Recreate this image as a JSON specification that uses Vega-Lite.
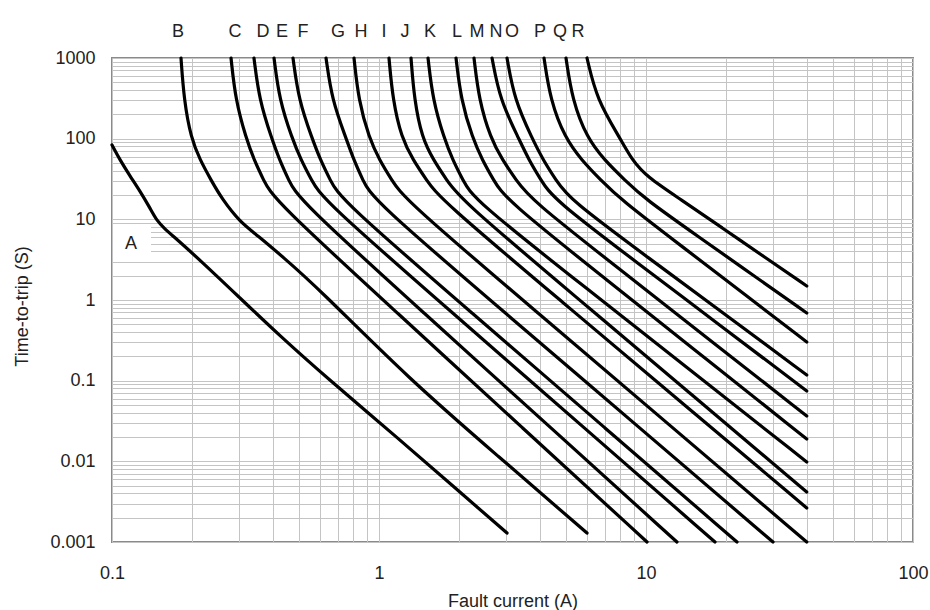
{
  "$schema": "https://vega.github.io/schema/vega-lite/v6.json",
  "width": 801,
  "height": 484,
  "autosize": {"type": "none"},
  "padding": {"left": 112, "top": 58, "right": 17, "bottom": 68},
  "background": "white",
  "config": {
    "view": {"stroke": "#8a8a8a", "strokeWidth": 2},
    "font": "Liberation Sans",
    "axis": {"domain": false, "ticks": false, "gridColor": "#c4c4c4", "gridWidth": 1, "labelFont": "Liberation Sans", "labelFontSize": 18, "labelColor": "#222", "titleFont": "Liberation Sans", "titleFontSize": 18, "titleFontWeight": "normal", "titleColor": "#222", "labelOverlap": false, "labelBound": false, "labelFlush": false}
  },
  "datasets": {
    "curves": [
      {"curve": "A", "current": 0.1, "time": 83.5},
      {"curve": "A", "current": 0.1071, "time": 54.4},
      {"curve": "A", "current": 0.1168, "time": 34.5},
      {"curve": "A", "current": 0.1273, "time": 22.5},
      {"curve": "A", "current": 0.1388, "time": 13.8},
      {"curve": "A", "current": 0.1474, "time": 9.54},
      {"curve": "A", "current": 0.1579, "time": 7.59},
      {"curve": "A", "current": 0.1692, "time": 6.22},
      {"curve": "A", "current": 0.2136, "time": 3.13},
      {"curve": "A", "current": 0.3015, "time": 1.059},
      {"curve": "A", "current": 0.4258, "time": 0.358},
      {"curve": "A", "current": 0.6385, "time": 0.108},
      {"curve": "A", "current": 1.199, "time": 0.0184},
      {"curve": "A", "current": 1.9017, "time": 0.004873},
      {"curve": "A", "current": 3.016, "time": 0.00129},
      {"curve": "B", "current": 0.1813, "time": 1000},
      {"curve": "B", "current": 0.1861, "time": 301.6},
      {"curve": "B", "current": 0.1976, "time": 101.9},
      {"curve": "B", "current": 0.2137, "time": 54.4},
      {"curve": "B", "current": 0.2349, "time": 30.7},
      {"curve": "B", "current": 0.2582, "time": 17.9},
      {"curve": "B", "current": 0.3016, "time": 9.27},
      {"curve": "B", "current": 0.3493, "time": 6.4},
      {"curve": "B", "current": 0.4369, "time": 3.41},
      {"curve": "B", "current": 0.5858, "time": 1.45},
      {"curve": "B", "current": 1.306, "time": 0.102},
      {"curve": "B", "current": 2.8028, "time": 0.011475},
      {"curve": "B", "current": 6.012, "time": 0.00129},
      {"curve": "C", "current": 0.2791, "time": 1000},
      {"curve": "C", "current": 0.2901, "time": 301.6},
      {"curve": "C", "current": 0.3176, "time": 101.9},
      {"curve": "C", "current": 0.3405, "time": 54.4},
      {"curve": "C", "current": 0.3697, "time": 30.7},
      {"curve": "C", "current": 0.4009, "time": 17.9},
      {"curve": "C", "current": 1.1748, "time": 0.6842},
      {"curve": "C", "current": 3.441, "time": 0.02616},
      {"curve": "C", "current": 10.09, "time": 0.001},
      {"curve": "D", "current": 0.3402, "time": 1000},
      {"curve": "D", "current": 0.3562, "time": 301.6},
      {"curve": "D", "current": 0.3958, "time": 101.9},
      {"curve": "D", "current": 0.424, "time": 54.4},
      {"curve": "D", "current": 0.459, "time": 30.7},
      {"curve": "D", "current": 0.4973, "time": 17.9},
      {"curve": "D", "current": 1.4784, "time": 0.6842},
      {"curve": "D", "current": 4.3932, "time": 0.02616},
      {"curve": "D", "current": 13.06, "time": 0.001},
      {"curve": "E", "current": 0.4044, "time": 1000},
      {"curve": "E", "current": 0.4236, "time": 301.6},
      {"curve": "E", "current": 0.4722, "time": 101.9},
      {"curve": "E", "current": 0.5104, "time": 54.4},
      {"curve": "E", "current": 0.5587, "time": 30.7},
      {"curve": "E", "current": 0.6116, "time": 17.9},
      {"curve": "E", "current": 1.8929, "time": 0.6842},
      {"curve": "E", "current": 5.8579, "time": 0.02616},
      {"curve": "E", "current": 18.13, "time": 0.001},
      {"curve": "F", "current": 0.4763, "time": 1000},
      {"curve": "F", "current": 0.5003, "time": 301.6},
      {"curve": "F", "current": 0.5611, "time": 101.9},
      {"curve": "F", "current": 0.6033, "time": 54.4},
      {"curve": "F", "current": 0.6568, "time": 30.7},
      {"curve": "F", "current": 0.7143, "time": 17.9},
      {"curve": "F", "current": 2.2366, "time": 0.6842},
      {"curve": "F", "current": 7.0003, "time": 0.02616},
      {"curve": "F", "current": 21.92, "time": 0.001},
      {"curve": "G", "current": 0.6333, "time": 1000},
      {"curve": "G", "current": 0.6668, "time": 301.6},
      {"curve": "G", "current": 0.7522, "time": 101.9},
      {"curve": "G", "current": 0.8047, "time": 54.4},
      {"curve": "G", "current": 0.8703, "time": 30.7},
      {"curve": "G", "current": 0.9414, "time": 17.9},
      {"curve": "G", "current": 2.9815, "time": 0.6842},
      {"curve": "G", "current": 9.4411, "time": 0.02616},
      {"curve": "G", "current": 29.9, "time": 0.001},
      {"curve": "H", "current": 0.8061, "time": 1000},
      {"curve": "H", "current": 0.838, "time": 301.6},
      {"curve": "H", "current": 0.9175, "time": 101.9},
      {"curve": "H", "current": 1.0043, "time": 54.4},
      {"curve": "H", "current": 1.1166, "time": 30.7},
      {"curve": "H", "current": 1.2408, "time": 17.9},
      {"curve": "H", "current": 3.9499, "time": 0.6842},
      {"curve": "H", "current": 12.572, "time": 0.02616},
      {"curve": "H", "current": 40, "time": 0.001},
      {"curve": "I", "current": 1.09, "time": 1000},
      {"curve": "I", "current": 1.1263, "time": 301.6},
      {"curve": "I", "current": 1.2143, "time": 101.9},
      {"curve": "I", "current": 1.3419, "time": 54.4},
      {"curve": "I", "current": 1.5066, "time": 30.7},
      {"curve": "I", "current": 1.6925, "time": 17.9},
      {"curve": "I", "current": 4.8576, "time": 0.9458},
      {"curve": "I", "current": 13.9389, "time": 0.04995},
      {"curve": "I", "current": 40, "time": 0.00264},
      {"curve": "J", "current": 1.3178, "time": 1000},
      {"curve": "J", "current": 1.3559, "time": 301.6},
      {"curve": "J", "current": 1.4493, "time": 101.9},
      {"curve": "J", "current": 1.5988, "time": 54.4},
      {"curve": "J", "current": 1.7932, "time": 30.7},
      {"curve": "J", "current": 2.011, "time": 17.9},
      {"curve": "J", "current": 5.448, "time": 1.1013},
      {"curve": "J", "current": 14.764, "time": 0.0679},
      {"curve": "J", "current": 40, "time": 0.00417},
      {"curve": "K", "current": 1.5262, "time": 1000},
      {"curve": "K", "current": 1.5906, "time": 301.6},
      {"curve": "K", "current": 1.7519, "time": 101.9},
      {"curve": "K", "current": 1.8882, "time": 54.4},
      {"curve": "K", "current": 2.0619, "time": 30.7},
      {"curve": "K", "current": 2.2494, "time": 17.9},
      {"curve": "K", "current": 5.872, "time": 1.4651},
      {"curve": "K", "current": 15.327, "time": 0.11997},
      {"curve": "K", "current": 40, "time": 0.00982},
      {"curve": "L", "current": 1.9429, "time": 1000},
      {"curve": "L", "current": 2.0284, "time": 301.6},
      {"curve": "L", "current": 2.2397, "time": 101.9},
      {"curve": "L", "current": 2.4376, "time": 54.4},
      {"curve": "L", "current": 2.6874, "time": 30.7},
      {"curve": "L", "current": 2.9643, "time": 17.9},
      {"curve": "L", "current": 7.0595, "time": 1.8227},
      {"curve": "L", "current": 16.804, "time": 0.18561},
      {"curve": "L", "current": 40, "time": 0.0189},
      {"curve": "M", "current": 2.2689, "time": 1000},
      {"curve": "M", "current": 2.3689, "time": 301.6},
      {"curve": "M", "current": 2.6165, "time": 101.9},
      {"curve": "M", "current": 2.8987, "time": 54.4},
      {"curve": "M", "current": 3.2652, "time": 30.7},
      {"curve": "M", "current": 3.6779, "time": 17.9},
      {"curve": "M", "current": 8.1486, "time": 2.2699},
      {"curve": "M", "current": 18.058, "time": 0.28774},
      {"curve": "M", "current": 40, "time": 0.0365},
      {"curve": "N", "current": 2.6505, "time": 1000},
      {"curve": "N", "current": 2.8393, "time": 301.6},
      {"curve": "N", "current": 3.3306, "time": 101.9},
      {"curve": "N", "current": 3.6427, "time": 54.4},
      {"curve": "N", "current": 4.0442, "time": 30.7},
      {"curve": "N", "current": 4.4848, "time": 17.9},
      {"curve": "N", "current": 9.2998, "time": 2.8798},
      {"curve": "N", "current": 19.289, "time": 0.46305},
      {"curve": "N", "current": 40, "time": 0.0745},
      {"curve": "O", "current": 3.016, "time": 1000},
      {"curve": "O", "current": 3.2176, "time": 301.6},
      {"curve": "O", "current": 3.7417, "time": 101.9},
      {"curve": "O", "current": 4.1183, "time": 54.4},
      {"curve": "O", "current": 4.6024, "time": 30.7},
      {"curve": "O", "current": 5.1471, "time": 17.9},
      {"curve": "O", "current": 10.195, "time": 3.3521},
      {"curve": "O", "current": 20.195, "time": 0.6278},
      {"curve": "O", "current": 40, "time": 0.1176},
      {"curve": "P", "current": 4.1502, "time": 1000},
      {"curve": "P", "current": 4.3815, "time": 301.6},
      {"curve": "P", "current": 4.9731, "time": 101.9},
      {"curve": "P", "current": 5.7337, "time": 54.4},
      {"curve": "P", "current": 6.7705, "time": 30.7},
      {"curve": "P", "current": 7.9916, "time": 17.9},
      {"curve": "P", "current": 13.67, "time": 4.5879},
      {"curve": "P", "current": 23.38, "time": 1.1765},
      {"curve": "P", "current": 40, "time": 0.3016},
      {"curve": "Q", "current": 5.0161, "time": 1000},
      {"curve": "Q", "current": 5.2963, "time": 301.6},
      {"curve": "Q", "current": 6.012, "time": 101.9},
      {"curve": "Q", "current": 6.9843, "time": 54.4},
      {"curve": "Q", "current": 8.3226, "time": 30.7},
      {"curve": "Q", "current": 9.914, "time": 17.9},
      {"curve": "Q", "current": 15.781, "time": 6.0467},
      {"curve": "Q", "current": 25.125, "time": 2.0427},
      {"curve": "Q", "current": 40, "time": 0.69},
      {"curve": "R", "current": 6.012, "time": 1000},
      {"curve": "R", "current": 6.5523, "time": 301.6},
      {"curve": "R", "current": 7.9916, "time": 101.9},
      {"curve": "R", "current": 8.8609, "time": 54.4},
      {"curve": "R", "current": 10.0867, "time": 33.5},
      {"curve": "R", "current": 13.4108, "time": 17.9},
      {"curve": "R", "current": 19.305, "time": 7.8164},
      {"curve": "R", "current": 27.787, "time": 3.413},
      {"curve": "R", "current": 40, "time": 1.49}
    ],
    "letters": [
      {"label": "B", "current": 0.1767, "time": 2100},
      {"label": "C", "current": 0.2888, "time": 2100},
      {"label": "D", "current": 0.3678, "time": 2100},
      {"label": "E", "current": 0.4332, "time": 2100},
      {"label": "F", "current": 0.5193, "time": 2100},
      {"label": "G", "current": 0.7022, "time": 2100},
      {"label": "H", "current": 0.8562, "time": 2100},
      {"label": "I", "current": 1.0441, "time": 2100},
      {"label": "J", "current": 1.2516, "time": 2100},
      {"label": "K", "current": 1.5527, "time": 2100},
      {"label": "L", "current": 1.9598, "time": 2100},
      {"label": "M", "current": 2.3285, "time": 2100},
      {"label": "N", "current": 2.7433, "time": 2100},
      {"label": "O", "current": 3.1493, "time": 2100},
      {"label": "P", "current": 4.0087, "time": 2100},
      {"label": "Q", "current": 4.7643, "time": 2100},
      {"label": "R", "current": 5.5634, "time": 2100},
      {"label": "A", "current": 0.1178, "time": 4.95}
    ],
    "box": [
      {"x1": 0.1009, "x2": 0.14, "y1": 2.96, "y2": 8.27}
    ]
  },
  "layer": [
    {
      "data": {"name": "box"},
      "mark": {"type": "rect", "fill": "white", "stroke": null},
      "encoding": {
        "x": {"field": "x1", "type": "quantitative", "scale": {"type": "log", "domain": [0.1, 100]}},
        "x2": {"field": "x2"},
        "y": {"field": "y1", "type": "quantitative", "scale": {"type": "log", "domain": [0.001, 1000]}},
        "y2": {"field": "y2"}
      }
    },
    {
      "data": {"name": "curves"},
      "mark": {"type": "line", "color": "#000", "strokeWidth": 3.2, "strokeCap": "round", "strokeJoin": "round", "interpolate": "basis"},
      "encoding": {
        "x": {
          "field": "current", "type": "quantitative",
          "scale": {"type": "log", "domain": [0.1, 100], "nice": false},
          "axis": {
            "title": "Fault current (A)",
            "values": [0.1,0.2,0.3,0.4,0.5,0.6,0.7,0.8,0.9,1,2,3,4,5,6,7,8,9,10,20,30,40,50,60,70,80,90,100],
            "labelExpr": "abs(log(datum.value)/LN10 - round(log(datum.value)/LN10)) < 0.000001 ? format(datum.value, '~g') : ''",
            "labelPadding": 22,
            "titleBaseline": "top",
            "titleY": 50
          }
        },
        "y": {
          "field": "time", "type": "quantitative",
          "scale": {"type": "log", "domain": [0.001, 1000], "nice": false},
          "axis": {
            "title": "Time-to-trip (S)",
            "values": [0.001,0.002,0.003,0.004,0.005,0.006,0.007,0.008,0.009,0.01,0.02,0.03,0.04,0.05,0.06,0.07,0.08,0.09,0.1,0.2,0.3,0.4,0.5,0.6,0.7,0.8,0.9,1,2,3,4,5,6,7,8,9,10,20,30,40,50,60,70,80,90,100,200,300,400,500,600,700,800,900,1000],
            "labelExpr": "abs(log(datum.value)/LN10 - round(log(datum.value)/LN10)) < 0.000001 ? format(datum.value, '~g') : ''",
            "labelPadding": 17,
            "titleX": -90,
            "titleY": 248,
            "titleAngle": -90,
            "titleAlign": "center",
            "titleBaseline": "middle"
          }
        },
        "detail": {"field": "curve"}
      }
    },
    {
      "data": {"name": "letters"},
      "mark": {"type": "text", "fontSize": 18, "font": "Liberation Sans", "color": "#222", "baseline": "middle", "align": "center"},
      "encoding": {
        "x": {"field": "current", "type": "quantitative"},
        "y": {"field": "time", "type": "quantitative"},
        "text": {"field": "label"}
      }
    }
  ]
}
